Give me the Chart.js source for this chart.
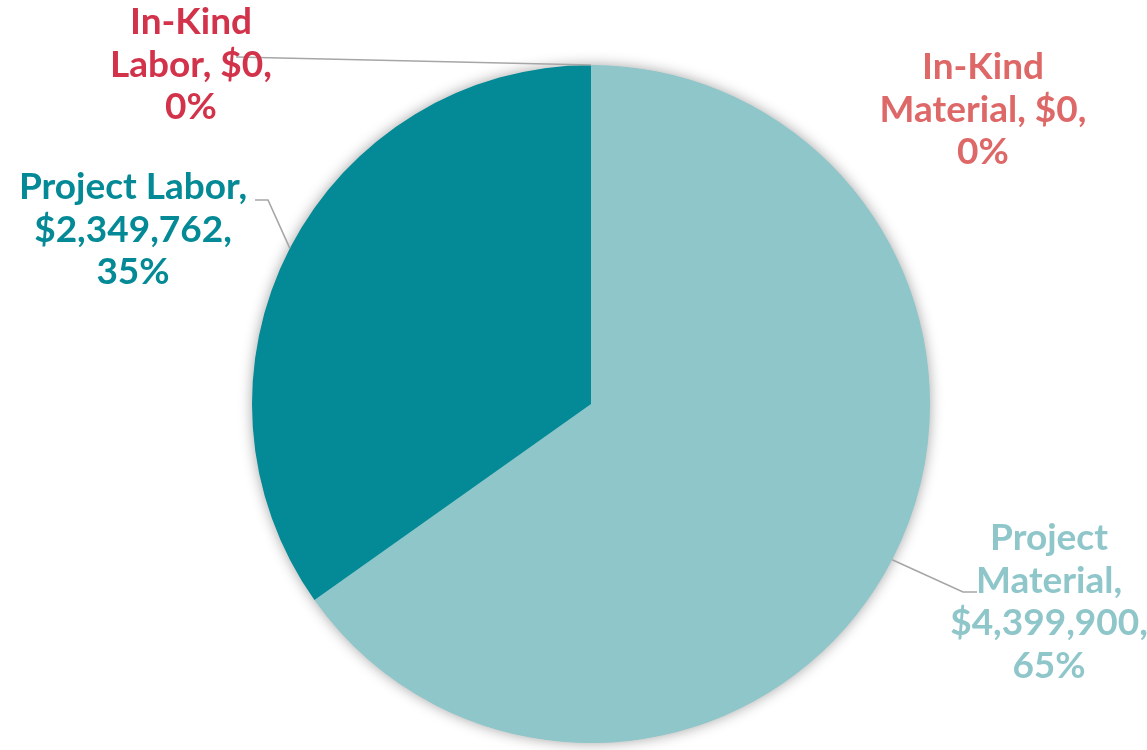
<!DOCTYPE html>
<html>
<head>
<meta charset="utf-8">
<title>Project Cost Breakdown</title>
<script src="https://cdn.jsdelivr.net/npm/chart.js@4/dist/chart.umd.min.js"></script>
<style>
  html, body { margin: 0; padding: 0; background: #ffffff; }
  #wrap { width: 1147px; height: 750px; position: relative; }
</style>
</head>
<body>
<div id="wrap"><canvas id="pie" width="1147" height="750"></canvas></div>
<script>
// Cost categories, in drawing order (clockwise from 12 o'clock)
const categories = ['In-Kind Material', 'Project Material', 'Project Labor', 'In-Kind Labor'];
// Dollar amounts per category
const amounts = [0, 4399900, 2349762, 0];
// Slice fills and label colours
const sliceColors = ['#DE6868', '#8EC6CA', '#038A96', '#D2334B'];
const labelColors = ['#DE6868', '#8EC6CA', '#038A96', '#D2334B'];

const total = amounts.reduce((a, b) => a + b, 0);
const money = v => '$' + v.toLocaleString('en-US');
const pct = v => Math.round(v / total * 100) + '%';

// Where each label block sits and how its leader line bends
const labelLayout = [
  { x: 983,  y: 67,  maxW: 232, leader: null },
  { x: 1049, y: 538, maxW: 212, leader: [[963, 592], [977, 592]] },
  { x: 133,  y: 187, maxW: 252, leader: [[268, 200], [255, 200]] },
  { x: 191,  y: 22,  maxW: 182, leader: [[236, 57]] }
];

const FONT = 'bold 37px Lato, "Open Sans", sans-serif';
const LINE_H = 42.7;

function wrapText(ctx, text, maxW) {
  const words = text.split(' ');
  const lines = [];
  let cur = '';
  for (const w of words) {
    const test = cur ? cur + ' ' + w : w;
    if (cur && ctx.measureText(test).width > maxW) {
      lines.push(cur);
      cur = w;
    } else {
      cur = test;
    }
  }
  if (cur) lines.push(cur);
  return lines;
}

// Soft halo behind the whole pie
const pieShadow = {
  id: 'pieShadow',
  beforeDatasetsDraw(chart) {
    const arc = chart.getDatasetMeta(0).data[1];
    if (!arc) return;
    const { x, y, outerRadius } = arc.getProps(['x', 'y', 'outerRadius'], true);
    const ctx = chart.ctx;
    ctx.save();
    ctx.shadowColor = 'rgba(0,0,0,0.38)';
    ctx.shadowBlur = 14;
    ctx.fillStyle = '#8EC6CA';
    ctx.beginPath();
    ctx.arc(x, y, outerRadius - 0.5, 0, Math.PI * 2);
    ctx.fill();
    ctx.restore();
  }
};

// Category, amount and share text with leader lines
const sliceLabels = {
  id: 'sliceLabels',
  afterDatasetsDraw(chart) {
    const ctx = chart.ctx;
    const meta = chart.getDatasetMeta(0);
    ctx.save();
    ctx.font = FONT;
    ctx.textAlign = 'center';
    ctx.textBaseline = 'middle';
    meta.data.forEach((arc, i) => {
      const lay = labelLayout[i];
      const p = arc.getProps(['x', 'y', 'startAngle', 'endAngle', 'outerRadius'], true);
      if (lay.leader) {
        const mid = (p.startAngle + p.endAngle) / 2;
        const sx = p.x + Math.cos(mid) * p.outerRadius;
        const sy = p.y + Math.sin(mid) * p.outerRadius;
        ctx.strokeStyle = '#A6A6A6';
        ctx.lineWidth = 1.6;
        ctx.beginPath();
        ctx.moveTo(sx, sy);
        lay.leader.forEach(pt => ctx.lineTo(pt[0], pt[1]));
        ctx.stroke();
      }
      const text = categories[i] + ', ' + money(amounts[i]) + ', ' + pct(amounts[i]);
      const lines = wrapText(ctx, text, lay.maxW);
      ctx.fillStyle = labelColors[i];
      lines.forEach((ln, k) => ctx.fillText(ln, lay.x, lay.y + k * LINE_H));
    });
    ctx.restore();
  }
};

new Chart(document.getElementById('pie'), {
  type: 'pie',
  data: {
    labels: categories,
    datasets: [{
      data: amounts,
      backgroundColor: sliceColors,
      borderWidth: 0
    }]
  },
  options: {
    responsive: false,
    animation: false,
    layout: { padding: { top: 65, bottom: 7, left: 252, right: 217 } },
    plugins: {
      legend: { display: false },
      tooltip: { enabled: false }
    }
  },
  plugins: [pieShadow, sliceLabels]
});
</script>
</body>
</html>
